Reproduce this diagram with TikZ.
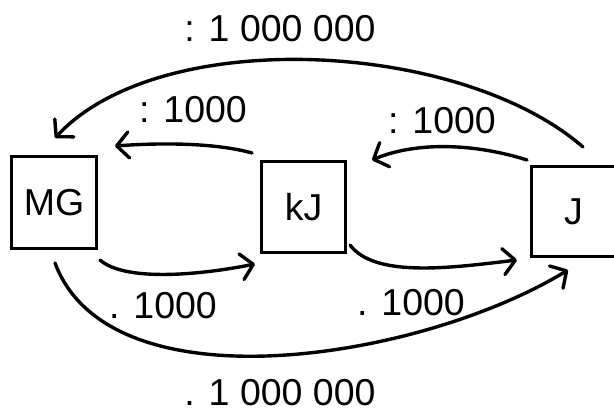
\documentclass[tikz,border=0pt]{standalone}
\usepackage{fontspec}
\setmainfont{Liberation Sans}
\usetikzlibrary{arrows.meta}
\begin{document}
\begin{tikzpicture}[x=1pt,y=-1pt,
  box/.style={draw,line width=3.5pt,minimum width=85pt,minimum height=92pt,inner sep=0pt,font=\fontsize{37.5}{40}\selectfont},
  lbl/.style={inner sep=0pt,font=\fontsize{37.5}{40}\selectfont},
  arr/.style={line width=3.4pt,line cap=round,line join=round,-{Straight Barb[length=12pt,width=26pt,line width=3.4pt,round]}}]
\useasboundingbox (0,0) rectangle (614,414);
\fill[white] (0,0) rectangle (614,414);
% boxes
\node[box] (MG) at (54,202.5) {MG};
\node[box,minimum width=84pt,minimum height=91pt] (kJ) at (303.5,207) {kJ};
\node[box,minimum width=84pt,minimum height=90pt] (J) at (573.5,211.5) {J};
% free ends of the connectors
\coordinate (tA) at (583,147);  \coordinate (tB) at (55,138);
\coordinate (aA) at (252,153);  \coordinate (aB) at (115,146);
\coordinate (bA) at (527,160);  \coordinate (bB) at (372,160);
\coordinate (cA) at (100,260);  \coordinate (cB) at (255,264);
\coordinate (dA) at (350,245);  \coordinate (dB) at (517,260);
\coordinate (eA) at (55,263);   \coordinate (eB) at (568,270);
% connectors
\draw[arr] (tA) .. controls (460,40) and (160,25) .. (tB);
\draw[arr] (aA) .. controls (220,144) and (170,142) .. (aB);
\draw[arr] (bA) .. controls (480,145) and (420,140) .. (bB);
\draw[arr] (cA) .. controls (125,282) and (200,275) .. (cB);
\draw[arr] (dA) .. controls (375,278) and (450,268) .. (dB);
\draw[arr] (eA) .. controls (110,410) and (420,360) .. (eB);
% labels
\node[lbl] (L1) at (280,28.5) {: 1 000 000};
\node[lbl] (L2) at (193,110) {: 1000};
\node[lbl] (L3) at (442,121) {: 1000};
\node[lbl] (L4) at (163,306) {. 1000};
\node[lbl] (L5) at (411,303) {. 1000};
\node[lbl] (L6) at (280,393) {. 1 000 000};
\end{tikzpicture}
\end{document}
